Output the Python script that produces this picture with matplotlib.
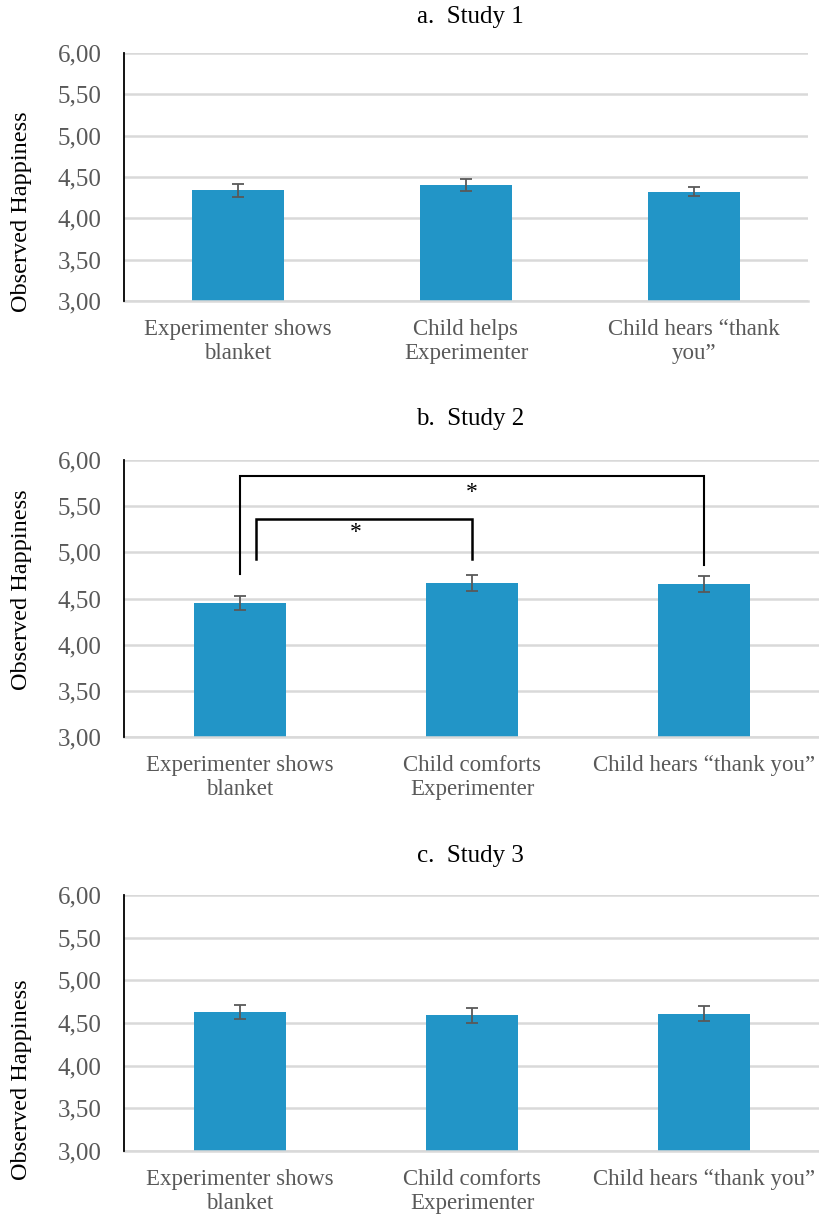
import matplotlib
matplotlib.use("Agg")
import matplotlib.pyplot as plt
import numpy as np

plt.rcParams['font.family'] = ['Liberation Serif', 'DejaVu Serif']

# Data
cats_a = ["Experimenter shows\nblanket", "Child helps\nExperimenter", "Child hears \u201cthank\nyou\u201d"]
cats_bc = ["Experimenter shows\nblanket", "Child comforts\nExperimenter", "Child hears \u201cthank you\u201d"]
vals_a = [4.34, 4.40, 4.32]
err_a = [0.08, 0.07, 0.055]
vals_b = [4.45, 4.67, 4.66]
err_b = [0.075, 0.085, 0.085]
vals_c = [4.63, 4.59, 4.61]
err_c = [0.085, 0.085, 0.085]
titles = ["a.  Study 1", "b.  Study 2", "c.  Study 3"]
yticks = [3.0, 3.5, 4.0, 4.5, 5.0, 5.5, 6.0]
ytick_labels = ["3,00", "3,50", "4,00", "4,50", "5,00", "5,50", "6,00"]

W, H = 820, 1219
fig = plt.figure(figsize=(W / 100, H / 100), dpi=100)

BAR = "#2295C7"
GRID = "#D9D9D9"
TXT = "#595959"

def px_axes(left, right, top, bottom):
    return fig.add_axes([left / W, 1 - bottom / H, (right - left) / W, (bottom - top) / H])

def draw(ax, cats, vals, errs):
    x = np.arange(len(cats))
    ax.set_xlim(-0.5, len(cats) - 0.5)
    ax.set_ylim(3.0, 6.0)
    ax.set_yticks(yticks)
    ax.set_yticklabels(ytick_labels, fontsize=18, color=TXT)
    ax.yaxis.grid(True, color=GRID, linewidth=1.8)
    ax.set_axisbelow(True)
    ax.bar(x, vals, width=0.4, color=BAR, zorder=2)
    ax.errorbar(x, vals, yerr=errs, fmt='none', ecolor=TXT, elinewidth=1.3,
                capsize=4, capthick=1.3, zorder=3)
    ax.set_xticks(x)
    ax.set_xticklabels(cats, fontsize=16.5, color=TXT, linespacing=1.2)
    ax.tick_params(axis='both', length=0)
    ax.tick_params(axis='y', pad=16)
    ax.tick_params(axis='x', pad=13)
    for s in ['top', 'right']:
        ax.spines[s].set_visible(False)
    ax.spines['bottom'].set_color(GRID)
    ax.spines['bottom'].set_linewidth(1.8)
    ax.spines['left'].set_color('black')
    ax.spines['left'].set_linewidth(1.3)
    ax.spines['left'].set_zorder(4)

ax_a = px_axes(124, 808, 53, 301)
draw(ax_a, cats_a, vals_a, err_a)
ax_b = px_axes(124, 820, 460, 737)
draw(ax_b, cats_bc, vals_b, err_b)
ax_c = px_axes(124, 820, 895, 1151)
draw(ax_c, cats_bc, vals_c, err_c)

# Significance brackets on Study 2
br_top = [5.83, 5.36]
br_left = [(0.0, 4.77), (0.07, 4.93)]
br_right = [(2.0, 4.86), (1.0, 4.93)]
br_lw = [1.5, 1.8]
star_pos = [(1.0, 5.65), (0.5, 5.21)]
for t, (xl, yl), (xr, yr), lw in zip(br_top, br_left, br_right, br_lw):
    ax_b.plot([xl, xl, xr, xr], [yl, t, t, yr], color='black', lw=lw,
              solid_joinstyle='miter', zorder=5, clip_on=False)
for (sx, sy) in star_pos:
    ax_b.text(sx, sy, "*", ha='center', va='center', fontsize=17, color='black')

# Titles
for ty, t in zip([17, 419, 856], titles):
    fig.text(470 / W, 1 - ty / H, t, ha='center', va='center', fontsize=18, color='black')

# Y labels
for ly in [212, 590, 1080]:
    fig.text(22 / W, 1 - ly / H, "Observed Happiness", rotation=90, ha='center',
             va='center', fontsize=17.5, color='black')

fig.savefig("out.png", dpi=100)
